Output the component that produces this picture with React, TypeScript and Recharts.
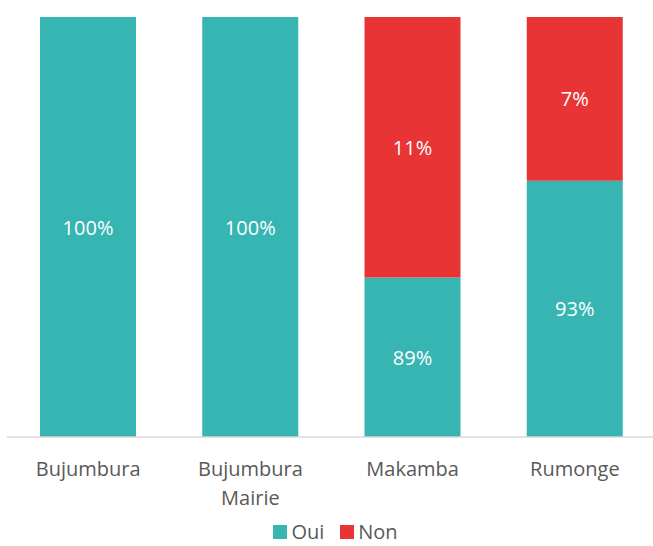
import React from "react";
import { BarChart, Bar, XAxis, YAxis, Legend, LabelList } from "recharts";

const categories = ["Bujumbura", "Bujumbura Mairie", "Makamba", "Rumonge"];
const ouiValues = [100, 100, 38, 61];
const nonValues = [0, 0, 62, 39];
const ouiLabels = ["100%", "100%", "89%", "93%"];
const nonLabels = ["", "", "11%", "7%"];
const seriesNames = ["Oui", "Non"];

const TEAL = "#36B5B3";
const RED = "#E83434";
const TEXT = "#595959";
const FONT = "'Open Sans', sans-serif";

const data = categories.map((c, i) => ({
  name: c,
  oui: ouiValues[i],
  non: nonValues[i],
  ouiLabel: ouiLabels[i],
  nonLabel: nonLabels[i],
}));

const splitLabel = (s: string): string[] => {
  if (s === "Bujumbura Mairie") return ["Bujumbura", "Mairie"];
  return [s];
};

const Tick = (props: any) => {
  const { x, payload } = props;
  const lines = splitLabel(String(payload.value));
  return (
    <text
      x={x}
      y={476}
      textAnchor="middle"
      fill={TEXT}
      fontSize={20}
      fontFamily={FONT}
    >
      {lines.map((l, i) => (
        <tspan key={i} x={x} dy={i === 0 ? 0 : 29}>
          {l}
        </tspan>
      ))}
    </text>
  );
};

const CenterLabel = (props: any) => {
  const { x, y, width, height, value } = props;
  if (!value) return null;
  return (
    <text
      x={x + width / 2}
      y={y + height / 2}
      textAnchor="middle"
      dominantBaseline="central"
      fill="#FFFFFF"
      fontSize={20}
      fontFamily={FONT}
    >
      {value}
    </text>
  );
};

const LegendContent = () => {
  const colors = [TEAL, RED];
  return (
    <div
      style={{
        display: "flex",
        justifyContent: "center",
        alignItems: "flex-end",
        height: 33,
        boxSizing: "border-box",
        paddingBottom: 5,
        fontFamily: FONT,
        fontSize: 20,
        color: TEXT,
        paddingLeft: 8,
      }}
    >
      {seriesNames.map((n, i) => (
        <div
          key={n}
          style={{ display: "flex", alignItems: "center", marginRight: i === 0 ? 16 : 0 }}
        >
          <div style={{ width: 14, height: 14, background: colors[i], marginRight: 4 }} />
          <div
            style={{
              display: "inline-block",
              height: 18,
              lineHeight: "18px",
              whiteSpace: "nowrap",
            }}
          >
            {n}
          </div>
        </div>
      ))}
    </div>
  );
};

export default function App() {
  return (
    <div
      style={{
        position: "absolute",
        left: 0,
        top: 0,
        width: 653,
        height: 546,
        overflow: "hidden",
        background: "#fff",
      }}
    >
      <BarChart
        width={656}
        height={546}
        data={data}
        margin={{ top: 17, right: 0, left: 7, bottom: 0 }}
        barSize={96}
      >
        <XAxis
          dataKey="name"
          tickLine={false}
          axisLine={{ stroke: "#D9D9D9", strokeWidth: 1.5 }}
          tick={<Tick />}
          height={76}
          interval={0}
        />
        <YAxis hide domain={[0, 100]} />
        <Legend
          verticalAlign="bottom"
          height={33}
          content={<LegendContent />}
        />
        <Bar dataKey="oui" stackId="a" fill={TEAL} isAnimationActive={false}>
          <LabelList dataKey="ouiLabel" content={<CenterLabel />} />
        </Bar>
        <Bar dataKey="non" stackId="a" fill={RED} isAnimationActive={false}>
          <LabelList dataKey="nonLabel" content={<CenterLabel />} />
        </Bar>
      </BarChart>
    </div>
  );
}
